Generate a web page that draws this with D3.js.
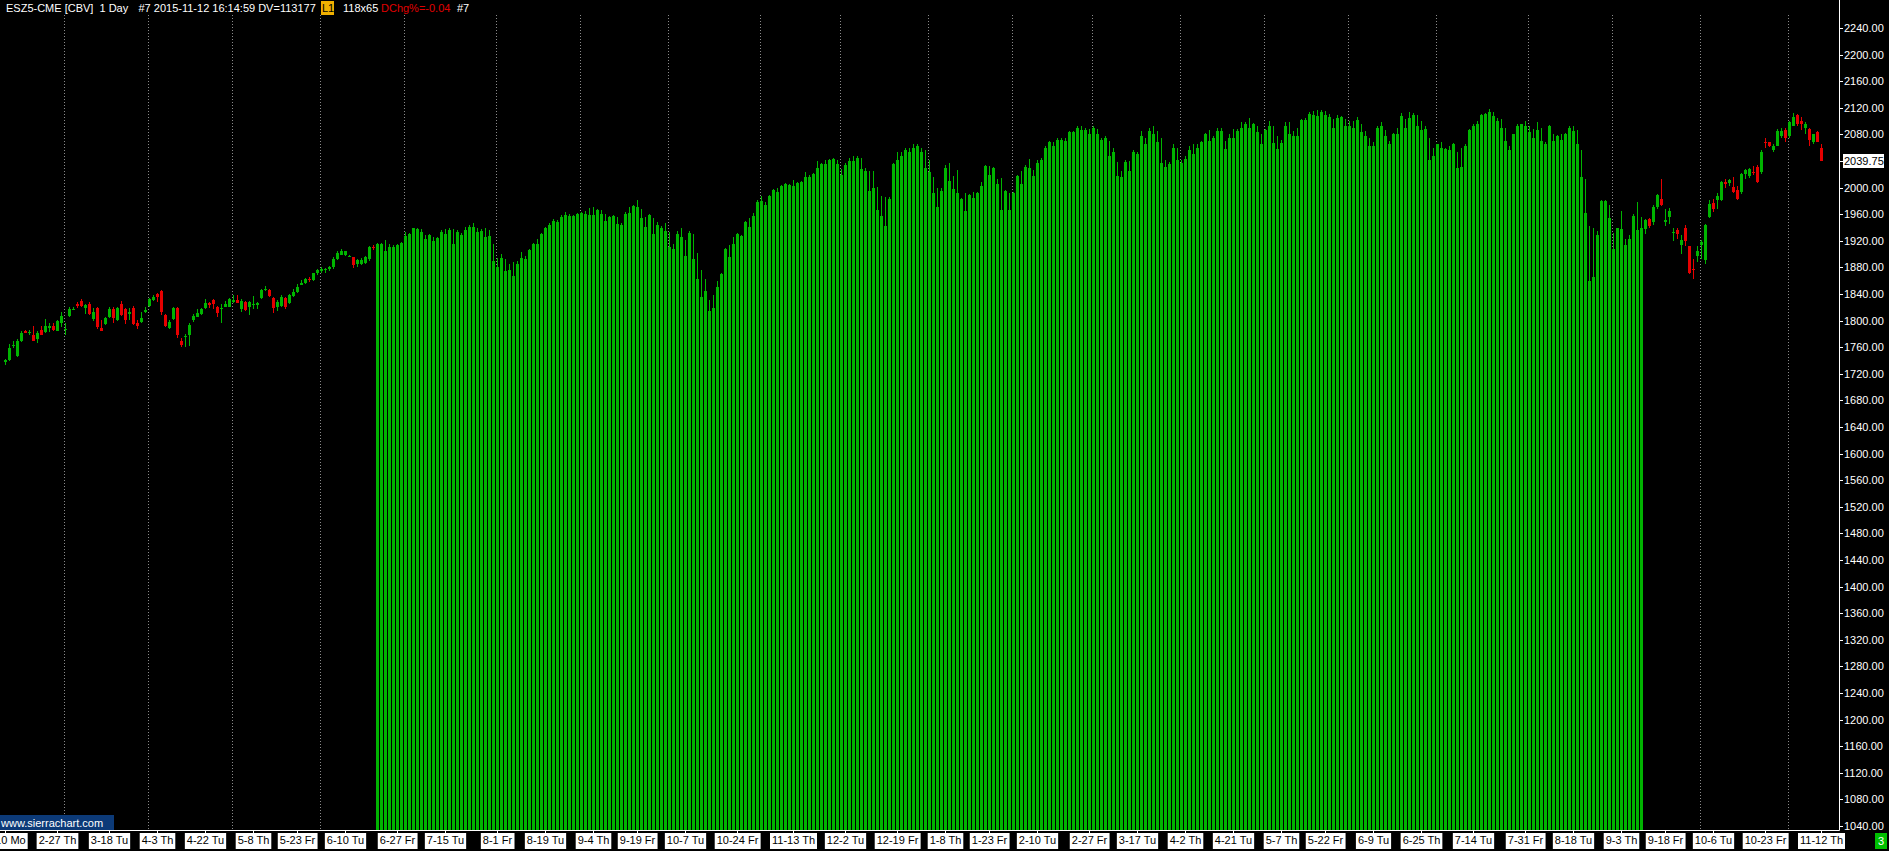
<!DOCTYPE html>
<html>
<head>
<meta charset="utf-8">
<script src="https://cdnjs.cloudflare.com/ajax/libs/d3/7.8.5/d3.min.js"></script>
<style>
body { margin: 0; background: #000; }
svg { display: block; }
text { font-family: "Liberation Sans", Arial, sans-serif; font-size: 11px; white-space: pre; }
</style>
</head>
<body>
<svg id="chart" width="1889" height="851"></svg>
<script>
// ESZ5 daily bars, 2014-02-10 .. 2015-11-12 (weekdays, minus exchange closures)
var firstDay = "2014-02-10", lastDay = "2015-11-12";
var closedDays = ["2014-04-18", "2014-12-25", "2015-01-01", "2015-04-03"];

// stretch of the chart drawn as solid bars (close down to the axis + wick to high)
var fillStart = "2014-06-20", fillEnd = "2015-09-10";

var closes = [
  1741.5,1759.5,1763,1770,1782,1782,1783.5,1770,1782,1779,
  1792.5,1792,1786.5,1800,1807.5,1788,1818,1818,1821.5,1822.5,
  1824,1810.5,1813.5,1791,1785,1804.5,1818,1804.5,1819.5,1809,
  1801.5,1813.5,1795.5,1792.5,1804.5,1816.5,1833,1836,1836,1813.5,
  1791.5,1798.5,1819.5,1779,1764,1777.5,1794,1807.5,1812,1818,
  1827,1824,1825.5,1812,1819.5,1825.5,1833,1831.5,1827,1830,
  1816.5,1828.5,1825.5,1827,1846.5,1848,1837.5,1819.5,1828.5,1836,
  1821,1839,1843.5,1851,1857,1862,1861,1871,1876,1877,
  1877,1880,1893,1902,1904,1904,1897,1883,1890.5,1890.5,
  1895,1910,1910.5,
  1914.5,1914.5,1904,1910,1910,1913,1916,
  1926.5,1929.5,1938.5,1937,1932.5,1922,1928,1919,1923.5,1932.5,
  1929.5,1935.5,1914.5,1932.5,1928,1935.5,1941.5,1941.5,1932.5,1934,
  1925,1926.5,1889,1880,1893.5,1874,1875.5,1866.5,1884.5,1893.5,
  1892,1905.5,1914.5,1914.5,1929.5,1938.5,1944.5,1950.5,1949,1956.5,
  1959.5,1958,1958,1961,1962.5,1961,1959.5,1959.5,1967,1961,
  1950.5,1956.5,1958,1946,1944.5,1961,1962.5,1973,1971.5,1955,
  1941.5,1959.5,1929.5,1944.5,1938.5,1934,1910,1907,1929.5,1925,
  1896.5,1931,1892,1862,1835,1844,1815,1819.5,1850,1869.5,
  1907,1895,1914.5,1929.5,1926.5,1949,1941.5,1958,1979,1980.5,
  1974.5,1988,1997,1994,2003,2006,2004.5,2003,2007.5,2009,
  2016.5,2016.5,2021,2030,2036,2036,2042,2043.5,2036,2019.5,
  2034.5,2040.5,2040.5,2045,2028.5,2025.5,1995.5,2000,1967,1958,
  1943,1983.5,2036,2042,2048,2056,2054,2060,2062,2053,
  2030,2023,1992.5,1971.5,1995.5,2030,2010.5,1998.5,1992.5,1983.5,
  1965.5,1989.5,1985,1992.5,2003,2033,2019.5,2030,2006,1967,
  1995.5,1967,1992.5,2018,2006,2031.5,2030,2018,2037.5,2042,
  2060,2069,2063,2072,2072,2070.5,2083,2083,2090,2086,
  2086,2081,2090,2081,2072,2075,2047,2054,2018,2016.5,
  2039,2025.5,2053,2050,2077,2066,2084.5,2080,2069,2037.5,
  2031.5,2036,2060,2042,2037.5,2043.5,2057,2051,2060,2069,
  2080,2070.5,2075,2084.5,2084.5,2058.5,2075,2075,2084.5,2090,
  2095,2089,2096,2083,2065,2086,2093,2067.5,2058.5,2067.5,
  2092,2081,2078,2078,2101,2102,2110,2108.5,2107,2113,
  2108.5,2105.5,2089,2104,2105.5,2092,2093,2090,2101,2083,
  2077,2063,2063,2090,2093,2077,2066,2081,2081,2107,
  2089,2104,2108.5,2092,2086,2087.5,2042,2047,2065,2060,
  2058.5,2056,2065,2030,2031.5,2062,2086,2093,2096,2108.5,
  2110,2113,2107,2099.5,2090,2070.5,2056,2080,2093,2095,
  2092,2083,2075,2086,2070.5,2065,2092,2070.5,2077,2072,
  2081,2090,2084.5,2065,2016.5,1962.5,1860,1865,1928,1980.5,
  1980.5,1955,1907,1938.5,1937,1913,1922,1958,1935.5,1940,
  1952,1943,1971.5,1989.5,1974.5,1952,1965.5,1932.5,1929.5,1920.5,
  1919,1871,1877,1904,1917.5,1944.5,1976,1968.5,1988,2009,
  2006,2012,1994,1983.5,2021,2027,2028.5,2023,2009,2053,
  2068,2062,2062,2084.5,2084.5,2074,2098,2105.5,2095,2095,
  2095,2072,2080,2069,2039.75
];

var highs = [
  1742,1765.5,1770,1773,1785,1786,1786.5,1791.5,1784,1791.5,
  1803,1797,1797,1801,1813.5,1796,1821,1821,1828,1833,
  1825,1828.5,1819.5,1821,1801.5,1806,1821,1821,1821,1830,
  1819.5,1819.5,1822.5,1801.5,1813.5,1821,1834,1839,1842,1846.5,
  1810,1801.5,1821,1821,1774.5,1780.5,1796,1810.5,1818,1819,
  1833,1828,1832.5,1822.5,1825.5,1830,1834,1839,1839,1833,
  1830,1830,1837.5,1828.5,1848,1852.5,1848,1836,1831.5,1838,
  1836,1840,1848,1855.5,1861.5,1864,1865,1872,1877,1880,
  1879,1882,1895,1904,1907,1905,1899,1896,1892,1894,
  1896.5,1911.5,1913,
  1916,1916,1920.5,1914.5,1913,1914.5,1917.5,
  1932.5,1931,1940,1938.5,1937,1928,1929.5,1925,1925,1935.5,
  1937,1938.5,1937,1935.5,1931,1941.5,1944.5,1947.5,1938.5,1937,
  1940,1935.5,1914.5,1893.5,1899.5,1892,1884.5,1887.5,1889,1902.5,
  1896.5,1907,1916,1922,1931,1941.5,1947.5,1953.5,1952,1959.5,
  1964,1961,1959.5,1962.5,1964,1965.5,1970,1971.5,1968,1967,
  1961,1958,1959.5,1956.5,1947.5,1964,1971.5,1974.5,1982,1968.5,
  1956.5,1961,1955,1949,1943,1947.5,1932.5,1914.5,1934,1940,
  1920.5,1934,1929.5,1901,1875.5,1862,1831.5,1839,1860,1871,
  1908.5,1913,1925,1931,1928,1950.5,1955,1962.5,1982,1988,
  1979,1989.5,1998.5,2000,2004.5,2007.5,2006,2012,2009,2010.5,
  2023,2019.5,2022.5,2040.5,2037.5,2042,2043.5,2045,2042,2028.5,
  2037.5,2045,2047,2048,2045,2030,2025.5,2025.5,2001.5,1988,
  1986.5,1986.5,2037.5,2053,2053,2059,2060,2065,2065,2059,
  2056,2042,2016.5,2000,2000,2034.5,2037.5,2018,2027,1985,
  1992.5,1991,1994,1994,2009,2034.5,2033,2031.5,2013.5,2015,
  1997,1992.5,1994,2019.5,2025.5,2034.5,2043.5,2027,2042,2045,
  2062,2070.5,2069,2075,2074,2075,2084.5,2084.5,2092,2093,
  2089,2087.5,2092,2087.5,2075,2078,2070.5,2059,2039,2025.5,
  2042,2040.5,2057,2054,2084.5,2074,2090,2092,2084.5,2074,
  2042,2039,2066,2060,2042,2048,2063,2066,2065,2070.5,
  2081.5,2086,2077,2089,2089,2070.5,2081,2087.5,2087.5,2098,
  2098,2104,2097.5,2092,2081,2087.5,2099.5,2093,2078,2072,
  2098,2098,2084.5,2090,2102.5,2104,2113,2114.5,2116,2116,
  2114.5,2110,2102.5,2108.5,2107,2102.5,2099.5,2099.5,2105.5,2095,
  2084.5,2075,2069,2092,2098,2086,2070.5,2082.5,2090,2111.5,
  2102.5,2113,2111.5,2108.5,2099.5,2092,2075,2059,2066,2069,
  2060,2062,2067.5,2054,2060,2066,2087.5,2096,2099.5,2110,
  2111.5,2117.5,2113,2104,2102.5,2089,2062,2081,2096,2096,
  2099.5,2093,2087.5,2098,2090,2069,2093.5,2080,2078.5,2081,
  2082.5,2092,2092,2086,2057,2013.5,1943,1938.5,1934,1982,
  1982,1974.5,1931,1940,1965.5,1922,1928,1961,1979,1956.5,
  1953.5,1954,1974.5,1991,2013.5,1968.5,1970,1938.5,1940,1928,
  1944.5,1912,1892,1911.5,1920.5,1946,1982,1983.5,1992.5,2010.5,
  2013.5,2013.5,2016.5,2003,2022.5,2028.5,2030,2033,2034.5,2056,
  2075,2069,2065,2087.5,2089,2090,2099.5,2111.5,2110,2105.5,
  2098,2090,2081,2084.5,2065
];

// opens and lows can only be read where the bars are drawn as candles
var opensEarly = [
  1737.5,1741.5,1762,1747.5,1769,1785,1782.5,1779,1773,1786.5,
  1782.5,1789,1792.5,1785,1797,1787.5,1807.5,1817.5,1824.5,1830,
  1819.5,1825.5,1803,1819.5,1789.5,1795.5,1806,1818,1801.5,1825.5,
  1818,1810.5,1819.5,1797,1798.5,1813.5,1822.5,1831.5,1840.5,1845,
  1808,1789.5,1803,1819.5,1770,1777,1779,1801.5,1806,1810.5,
  1819.5,1827,1831.5,1821,1819,1821,1821,1828.5,1831.5,1818,
  1828.5,1821,1825,1824,1834.5,1847.5,1846.5,1834.5,1821,1822.5,
  1834.5,1827,1837.5,1843.5,1854,1857,1863,1861,1871,1875,
  1876.5,1877,1880,1893,1899,1899,1896.5,1895,1884.5,1884.5,
  1886,1893,1911
];
var lowsEarly = [
  1732.5,1740,1759,1746,1768,1781,1779,1769,1767,1778,
  1781,1782.5,1785,1784,1791,1779,1806,1816,1819,1821,
  1810.5,1809,1800,1788,1784,1794,1804,1797,1800,1807,
  1795.5,1801.5,1794,1788,1797,1812,1821,1830,1828.5,1809,
  1790,1788,1801.5,1774.5,1761,1761,1762,1798.5,1805,1809,
  1818,1819.5,1818,1806,1797,1820,1820,1827,1826,1813.5,
  1815,1809,1818,1818,1833,1844.5,1836,1812,1815,1821,
  1818,1825.5,1836,1842,1853,1855,1858,1860,1869,1871,
  1872,1874,1877,1891,1898,1897,1895,1879,1881,1883,
  1885,1890,1905.5
];
var opensLate = [
  1937,1953.5,1949,1971.5,1983.5,1949,1956.5,1932,1935.5,1913,
  1940,1911.5,1877.5,1896.5,1913,1890.5,1956.5,1977.5,1982,1982,
  2009,2007.5,2001.5,1997,1994,2021,2018,2023.5,2031.5,2023,
  2068.5,2068,2056,2063,2077,2086,2077,2093,2108.5,2099.5,
  2090,2087.5,2068,2083,2059
];
var lowsLate = [
  1929.5,1938.5,1944.5,1968.5,1973,1943,1946,1919,1922,1899.5,
  1911.5,1869.5,1863,1887.5,1892,1884.5,1955,1964,1968.5,1980.5,
  2000,2003,1992.5,1982,1991,2013.5,2015,2019.5,2007.5,2021,
  2059,2060.5,2053,2062,2075,2069,2075,2092,2092,2086,
  2080,2063,2066,2068,2039.75
];

var xLabels = ["2014-02-10","2014-02-27","2014-03-18","2014-04-03","2014-04-22","2014-05-08",
  "2014-05-23","2014-06-10","2014-06-27","2014-07-15","2014-08-01","2014-08-19","2014-09-04",
  "2014-09-19","2014-10-07","2014-10-24","2014-11-13","2014-12-02","2014-12-19","2015-01-08",
  "2015-01-23","2015-02-10","2015-02-27","2015-03-17","2015-04-02","2015-04-21","2015-05-07",
  "2015-05-22","2015-06-09","2015-06-25","2015-07-14","2015-07-31","2015-08-18","2015-09-03",
  "2015-09-18","2015-10-06","2015-10-23","2015-11-12"];
var priceTicks = [1040,1080,1120,1160,1200,1240,1280,1320,1360,1400,1440,1480,1520,1560,1600,
  1640,1680,1720,1760,1800,1840,1880,1920,1960,2000,2040,2080,2120,2160,2200,2240];
var lastPrice = 2039.75;

var green = "#00b400", red = "#e60000";
var weekday = ["Su","Mo","Tu","We","Th","Fr","Sa"];

var svg = d3.select("#chart");
var axisX = 1839.5, axisY = 830.5;

var parse = d3.utcParse("%Y-%m-%d"), fmt = d3.utcFormat("%Y-%m-%d"), md = d3.utcFormat("%-m-%-d");
var days = d3.utcDays(parse(firstDay), d3.utcDay.offset(parse(lastDay), 1))
  .filter(function(d) {
    var w = d.getUTCDay();
    return w > 0 && w < 6 && closedDays.indexOf(fmt(d)) < 0;
  })
  .map(fmt);

var x = d3.scaleBand().domain(days).range([4, 1824])
  .paddingInner(0.25).paddingOuter(0.125).align(0);
var y = d3.scaleLinear().domain([1040, 2240]).range([826, 28]);

var fillA = days.indexOf(fillStart), fillB = days.indexOf(fillEnd);
var bars = days.map(function(d, i) {
  var o = null, l = null;
  if (i < fillA) { o = opensEarly[i]; l = lowsEarly[i]; }
  else if (i > fillB) { o = opensLate[i - fillB - 1]; l = lowsLate[i - fillB - 1]; }
  return {date: d, o: o, h: highs[i], l: l, c: closes[i], filled: i >= fillA && i <= fillB};
});
function barColor(d) { return d.filled || d.c >= d.o ? green : red; }

// month separators
var monthStarts = days.filter(function(d, i) { return i > 0 && d.slice(5, 7) != days[i - 1].slice(5, 7); });
svg.append("g").selectAll("line").data(monthStarts).join("line")
  .attr("x1", function(d) { return x(d) + 0.5; })
  .attr("x2", function(d) { return x(d) + 0.5; })
  .attr("y1", 15).attr("y2", 830)
  .attr("stroke", "#8a8a8a").attr("stroke-dasharray", "1,2");

// bars
var g = svg.append("g").attr("shape-rendering", "crispEdges");
g.selectAll(".wick").data(bars).join("line").attr("class", "wick")
  .attr("x1", function(d) { return x(d.date) + 1.5; })
  .attr("x2", function(d) { return x(d.date) + 1.5; })
  .attr("y1", function(d) { return y(d.h); })
  .attr("y2", function(d) { return d.filled ? y(d.c) : y(d.l); })
  .attr("stroke", barColor);
g.selectAll(".body").data(bars).join("rect").attr("class", "body")
  .attr("x", function(d) { return x(d.date); })
  .attr("width", x.bandwidth())
  .attr("y", function(d) { return d.filled ? y(d.c) : y(Math.max(d.o, d.c)); })
  .attr("height", function(d) {
    return d.filled ? 830 - y(d.c) : Math.max(1, Math.abs(y(d.o) - y(d.c)));
  })
  .attr("fill", barColor);

// price axis
var yAxis = svg.append("g").attr("transform", "translate(1840,0)")
  .call(d3.axisRight(y).tickValues(priceTicks).tickSize(3).tickPadding(1).tickFormat(d3.format(".2f")));
yAxis.select(".domain").remove();
yAxis.selectAll("line").attr("stroke", "#fff").attr("shape-rendering", "crispEdges");
yAxis.selectAll("text").attr("fill", "#fff").attr("font-size", 11)
  .attr("font-family", "Liberation Sans, Arial, sans-serif");

// date axis
var xAxis = svg.append("g").attr("transform", "translate(0," + axisY + ")")
  .call(d3.axisBottom(x).tickValues(xLabels).tickSize(3).tickPadding(3)
    .tickFormat(function(d) { return md(parse(d)) + " " + weekday[parse(d).getUTCDay()]; }));
xAxis.select(".domain").remove();
xAxis.selectAll("line").attr("stroke", "#fff").attr("shape-rendering", "crispEdges");
xAxis.selectAll("text").attr("fill", "#000").attr("font-size", 11)
  .attr("font-family", "Liberation Sans, Arial, sans-serif");
xAxis.selectAll(".tick").each(function() {
  var t = d3.select(this).select("text"), b = t.node().getBBox();
  d3.select(this).insert("rect", "text")
    .attr("x", b.x - 2).attr("y", 2.5).attr("width", b.width + 4).attr("height", 16)
    .attr("fill", "#fff");
});

// frame lines
svg.append("line").attr("x1", 0).attr("x2", axisX).attr("y1", axisY).attr("y2", axisY).attr("stroke", "#fff");
svg.append("line").attr("x1", axisX).attr("x2", axisX).attr("y1", 0).attr("y2", axisY).attr("stroke", "#fff");

// last price marker
var ly = Math.round(y(lastPrice));
svg.append("rect").attr("x", 1843).attr("y", ly - 7).attr("width", 41).attr("height", 14).attr("fill", "#fff");
svg.append("text").attr("x", 1844).attr("y", ly + 4).attr("fill", "#000").text(d3.format(".2f")(lastPrice));

// header
var hdr = svg.append("g");
hdr.append("text").attr("x", 6).attr("y", 12).attr("fill", "#fff").text("ESZ5-CME [CBV]");
hdr.append("text").attr("x", 99.5).attr("y", 12).attr("fill", "#fff").text("1 Day");
hdr.append("text").attr("x", 138.5).attr("y", 12).attr("fill", "#fff").text("#7 2015-11-12 16:14:59 DV=113177");
hdr.append("rect").attr("x", 321).attr("y", 1).attr("width", 13).attr("height", 14).attr("fill", "#f0b000");
hdr.append("text").attr("x", 322).attr("y", 12).attr("fill", "#000").text("L1");
hdr.append("text").attr("x", 343).attr("y", 12).attr("fill", "#fff").text("118x65");
hdr.append("text").attr("x", 381).attr("y", 12).attr("fill", "#e00000").text("DChg%=-0.04");
hdr.append("text").attr("x", 457).attr("y", 12).attr("fill", "#fff").text("#7");

// footer badges
svg.append("rect").attr("x", 0).attr("y", 815).attr("width", 114).attr("height", 15).attr("fill", "#0c3a78");
svg.append("text").attr("x", 1).attr("y", 826.5).attr("fill", "#fff").text("www.sierrachart.com");
svg.append("rect").attr("x", 1875).attr("y", 833).attr("width", 12).attr("height", 16).attr("fill", "#00c000");
svg.append("text").attr("x", 1881).attr("y", 845).attr("text-anchor", "middle").attr("fill", "#fff").text("3");
</script>
</body>
</html>
